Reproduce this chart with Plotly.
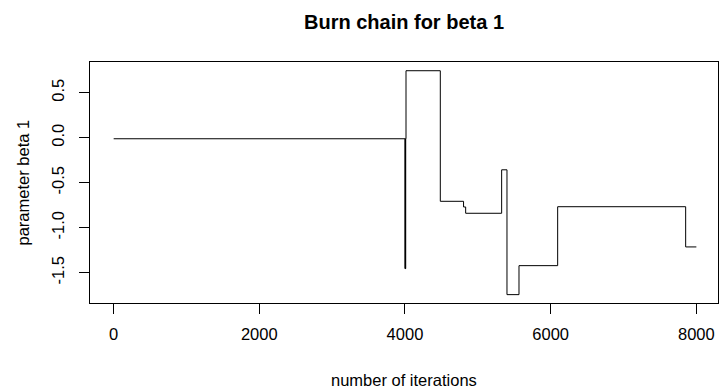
import plotly.graph_objects as go

# Change points of the burn-in chain: iteration where a new value starts, and that value
iterations = [1, 4000, 4004, 4007, 4010, 4014, 4485, 4804, 4833, 5327, 5400, 5565, 6096, 7853, 8000]
beta1 = [-0.012, -1.455, -0.012, -1.455, -0.012, 0.744, -0.707, -0.77, -0.84, -0.357,
         -1.744, -1.422, -0.767, -1.214, -1.214]

x_ticks = [0, 2000, 4000, 6000, 8000]
y_ticks = [-1.5, -1.0, -0.5, 0.0, 0.5]
y_tick_text = ["-1.5", "-1.0", "-0.5", "0.0", "0.5"]

FONT = "Liberation Sans, Arial, sans-serif"

fig = go.Figure()
fig.add_trace(go.Scatter(
    x=iterations, y=beta1, mode="lines", line_shape="hv",
    line=dict(color="black", width=1), hoverinfo="skip", showlegend=False,
))

axis_common = dict(
    showgrid=False, zeroline=False, showline=True, mirror=True,
    linecolor="black", linewidth=1, ticks="outside", ticklen=10,
    tickcolor="black", tickwidth=1,
    tickfont=dict(family=FONT, size=16.5, color="black"),
)

fig.update_layout(
    width=719, height=390,
    margin=dict(l=90, r=1, t=62, b=87),
    paper_bgcolor="white", plot_bgcolor="white",
    xaxis=dict(range=[-324, 8297], tickvals=x_ticks, ticklabelstandoff=6, **axis_common),
    yaxis=dict(range=[-1.837, 0.841], tickvals=y_ticks, ticktext=y_tick_text,
               tickangle=-90, ticklabelstandoff=8, **axis_common),
    title=dict(text="Burn chain for beta 1", x=0.5, xref="paper",
               y=1 - 22 / 390, yref="container", yanchor="middle",
               font=dict(family=FONT, size=20, color="black", weight="bold")),
    annotations=[
        dict(text="number of iterations", xref="paper", yref="paper",
             x=0.5, y=-(380 - 303) / (303 - 62), xanchor="center", yanchor="middle",
             showarrow=False, font=dict(family=FONT, size=16.5, color="black")),
        dict(text="parameter beta 1", xref="paper", yref="paper",
             x=-(90 - 22) / (718 - 90), y=0.5, xanchor="center", yanchor="middle",
             textangle=-90, showarrow=False,
             font=dict(family=FONT, size=16.5, color="black")),
    ],
)

fig.write_html("out.html")
